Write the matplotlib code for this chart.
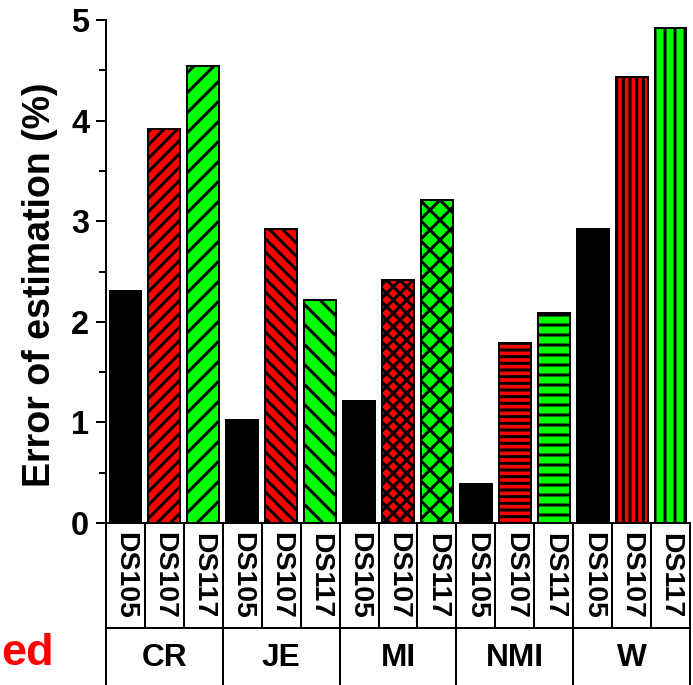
import numpy as np
import matplotlib.pyplot as plt
from matplotlib import transforms
from matplotlib.ticker import MultipleLocator

plt.rcParams['font.family'] = ['Liberation Sans', 'DejaVu Sans']
plt.rcParams['font.weight'] = 'bold'
plt.rcParams['hatch.linewidth'] = 1.8

# Error of estimation (%) for each measure and dataset
metrics = ["CR", "JE", "MI", "NMI", "W"]
datasets = ["DS105", "DS107", "DS117"]
ds105 = [2.31, 1.02, 1.21, 0.39, 2.92]
ds107 = [3.92, 2.92, 2.42, 1.79, 4.43]
ds117 = [4.54, 2.22, 3.21, 2.09, 4.92]

bar_colors = ["black", "#ff0000", "#00ff00"]
# hatch per measure for DS107 (dense) and DS117 (sparse)
hatch_107 = ["///", "\\\\\\", "xxx", "---", "|||"]
hatch_117 = ["//", "\\\\", "xx", "--", "||"]

DPI = 120
fig = plt.figure(figsize=(693 / DPI, 685 / DPI), dpi=DPI)
ax = fig.add_axes([106 / 693, 162 / 685, 584 / 693, 503 / 685])

values = [ds105, ds107, ds117]
hatches = [[None] * len(metrics), hatch_107, hatch_117]
n_ds = len(datasets)
for g in range(len(metrics)):
    for k in range(n_ds):
        ax.bar(g * n_ds + k, values[k][g], 0.82, color=bar_colors[k],
               edgecolor="black", linewidth=1.2, hatch=hatches[k][g], zorder=2)

n_cols = len(metrics) * n_ds
ax.set_xlim(-0.5, n_cols - 0.5)
ax.set_ylim(0, 5)
ax.spines['top'].set_visible(False)
ax.spines['right'].set_visible(False)
ax.spines['left'].set_linewidth(1.2)
ax.spines['bottom'].set_linewidth(1.2)
ax.set_xticks([])
ax.yaxis.set_major_locator(MultipleLocator(1))
ax.yaxis.set_minor_locator(MultipleLocator(0.5))
ax.tick_params(axis='y', which='major', length=6, width=1.2, labelsize=19.5, pad=4)
ax.tick_params(axis='y', which='minor', length=4, width=1.2)
ax.set_ylabel("Error of estimation (%)", fontsize=22.5, fontweight='bold')
ax.yaxis.set_label_coords(-0.082, 0.473)

# table under the bars: dataset row then measure row
trans = transforms.blended_transform_factory(ax.transData, ax.transAxes)
row1 = -105 / 503
row2 = -0.5
ax.plot([-0.5, n_cols - 0.5], [row1, row1], color="black", lw=1.2,
        transform=trans, clip_on=False)
for i in range(n_cols + 1):
    bottom = row2 if i % n_ds == 0 else row1
    ax.plot([i - 0.5, i - 0.5], [0, bottom], color="black", lw=1.2,
            transform=trans, clip_on=False)
for i in range(n_cols):
    ax.text(i, row1 / 2, datasets[i % n_ds], rotation=-90, ha="center",
            va="center", fontsize=17, fontweight="bold", transform=trans)
for g, m in enumerate(metrics):
    ax.text(g * n_ds + 1, -135 / 503, m, ha="center", va="center",
            fontsize=19, fontweight="bold", transform=trans)

fig.text(1 / 693, 20 / 685, "ed", ha="left", va="baseline", color="#ff0000",
         fontsize=27, fontweight="bold")

fig.savefig("out.png", dpi=DPI)
